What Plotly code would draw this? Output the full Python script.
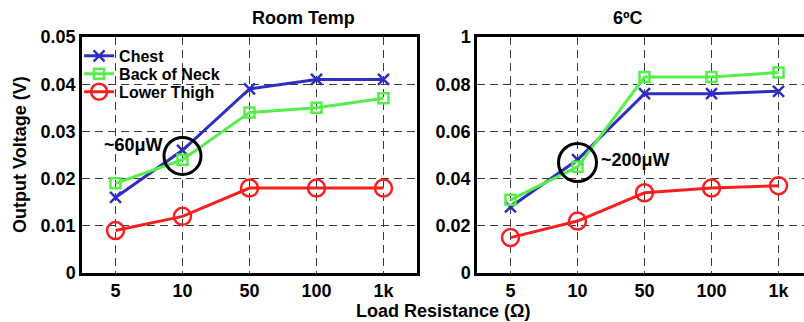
import plotly.graph_objects as go

categories = ["5", "10", "50", "100", "1k"]

room_chest = [0.016, 0.026, 0.039, 0.041, 0.041]
room_neck = [0.019, 0.024, 0.034, 0.035, 0.037]
room_thigh = [0.009, 0.012, 0.018, 0.018, 0.018]

cold_chest = [0.028, 0.048, 0.076, 0.076, 0.077]
cold_neck = [0.031, 0.045, 0.083, 0.083, 0.085]
cold_thigh = [0.015, 0.022, 0.034, 0.036, 0.037]

room_yticks = [0, 0.01, 0.02, 0.03, 0.04, 0.05]
room_yticktext = ["0", "0.01", "0.02", "0.03", "0.04", "0.05"]
cold_yticks = [0, 0.02, 0.04, 0.06, 0.08, 0.1]
cold_yticktext = ["0", "0.02", "0.04", "0.06", "0.08", "1"]

room_mark = ("10", 0.0248, "~60μW")
cold_mark = ("10", 0.0468, "~200μW")

BLUE = "#2e2ec4"
GREEN = "#55ee4a"
RED = "#fa1e1e"
FONT = "Liberation Sans"

series = [
    ("Chest", BLUE, "x-thin-open", 11, "legend"),
    ("Back of Neck", GREEN, "square-open", 10, "legend2"),
    ("Lower Thigh", RED, "circle-open", 17, "legend3"),
]

fig = go.Figure()
for (name, color, sym, size, leg), ys in zip(series, [room_chest, room_neck, room_thigh]):
    fig.add_trace(go.Scatter(
        x=categories, y=ys, name=name, mode="lines+markers", legend=leg,
        line=dict(color=color, width=3),
        marker=dict(symbol=sym, size=size, color=color, line=dict(color=color, width=2.5)),
        xaxis="x", yaxis="y"))
for (name, color, sym, size, leg), ys in zip(series, [cold_chest, cold_neck, cold_thigh]):
    fig.add_trace(go.Scatter(
        x=categories, y=ys, name=name, mode="lines+markers", showlegend=False,
        line=dict(color=color, width=3),
        marker=dict(symbol=sym, size=size, color=color, line=dict(color=color, width=2.5)),
        xaxis="x2", yaxis="y2"))

# highlight circles
fig.add_trace(go.Scatter(x=[room_mark[0]], y=[room_mark[1]], mode="markers", showlegend=False,
                         marker=dict(symbol="circle-open", size=37, color="black", line=dict(color="black", width=3)),
                         xaxis="x", yaxis="y"))
fig.add_trace(go.Scatter(x=[cold_mark[0]], y=[cold_mark[1]], mode="markers", showlegend=False,
                         marker=dict(symbol="circle-open", size=38, color="black", line=dict(color="black", width=3)),
                         xaxis="x2", yaxis="y2"))

tickfont = dict(family=FONT, size=18, color="black", weight="bold")
grid = dict(showgrid=True, gridcolor="#3a3a3a", gridwidth=1.3, griddash="8px,5px",
            showline=True, linecolor="black", linewidth=2.5, ticks="", tickfont=tickfont,
            zeroline=False)

L0, L1, R0 = 0.0, 335 / 722, 395 / 722
R1c = R0 + 335 / 722  # centre reference of the (cropped) right panel

bold18 = dict(family=FONT, size=18, color="black", weight="bold")
legfont = dict(family=FONT, size=16, color="black", weight="bold")


def leg(y):
    return dict(x=-0.004, y=y, xanchor="left", yanchor="top", bgcolor="rgba(0,0,0,0)",
                font=legfont, itemwidth=30, borderwidth=0)


fig.update_layout(
    width=804, height=322,
    margin=dict(l=82, r=0, t=37, b=49),
    paper_bgcolor="white", plot_bgcolor="white",
    font=dict(family=FONT, color="black"),
    xaxis=dict(domain=[L0, L1], type="category", range=[-0.5, 4.5], mirror=True, **grid),
    yaxis=dict(domain=[0, 1], range=[0, 0.05], tickvals=room_yticks, ticktext=room_yticktext,
               mirror=True, anchor="x", **grid),
    xaxis2=dict(domain=[R0, 1], type="category", range=[-0.5, 4.38], mirror=True, anchor="y2", **grid),
    yaxis2=dict(domain=[0, 1], range=[0, 0.1], tickvals=cold_yticks, ticktext=cold_yticktext,
                anchor="x2", mirror=False, **grid),
    showlegend=True,
    legend=leg(0.992),
    legend2=leg(0.916),
    legend3=leg(0.840),
    annotations=[
        dict(text="Room Temp", x=(L0 + L1) / 2, y=1, xref="paper", yref="paper",
             yanchor="middle", yshift=19, showarrow=False, font=bold18),
        dict(text="6ºC", x=(R0 + R1c) / 2, y=1, xref="paper", yref="paper",
             yanchor="middle", yshift=19, showarrow=False, font=bold18),
        dict(text="Output Voltage (V)", x=0, y=0.5, xref="paper", yref="paper",
             xanchor="center", xshift=-62, textangle=-90, showarrow=False, font=bold18),
        dict(text="Load Resistance (Ω)", x=0.5, y=0, xref="paper", yref="paper",
             yanchor="middle", yshift=-38, showarrow=False, font=bold18),
        dict(text=room_mark[2], x=categories.index(room_mark[0]), y=room_mark[1], xref="x", yref="y",
             xanchor="right", yanchor="middle", xshift=-18, yshift=11, showarrow=False, font=bold18),
        dict(text=cold_mark[2], x=categories.index(cold_mark[0]), y=cold_mark[1], xref="x2", yref="y2",
             xanchor="left", yanchor="middle", xshift=21, yshift=3, showarrow=False, font=bold18),
    ],
)

fig.write_html("out.html")
